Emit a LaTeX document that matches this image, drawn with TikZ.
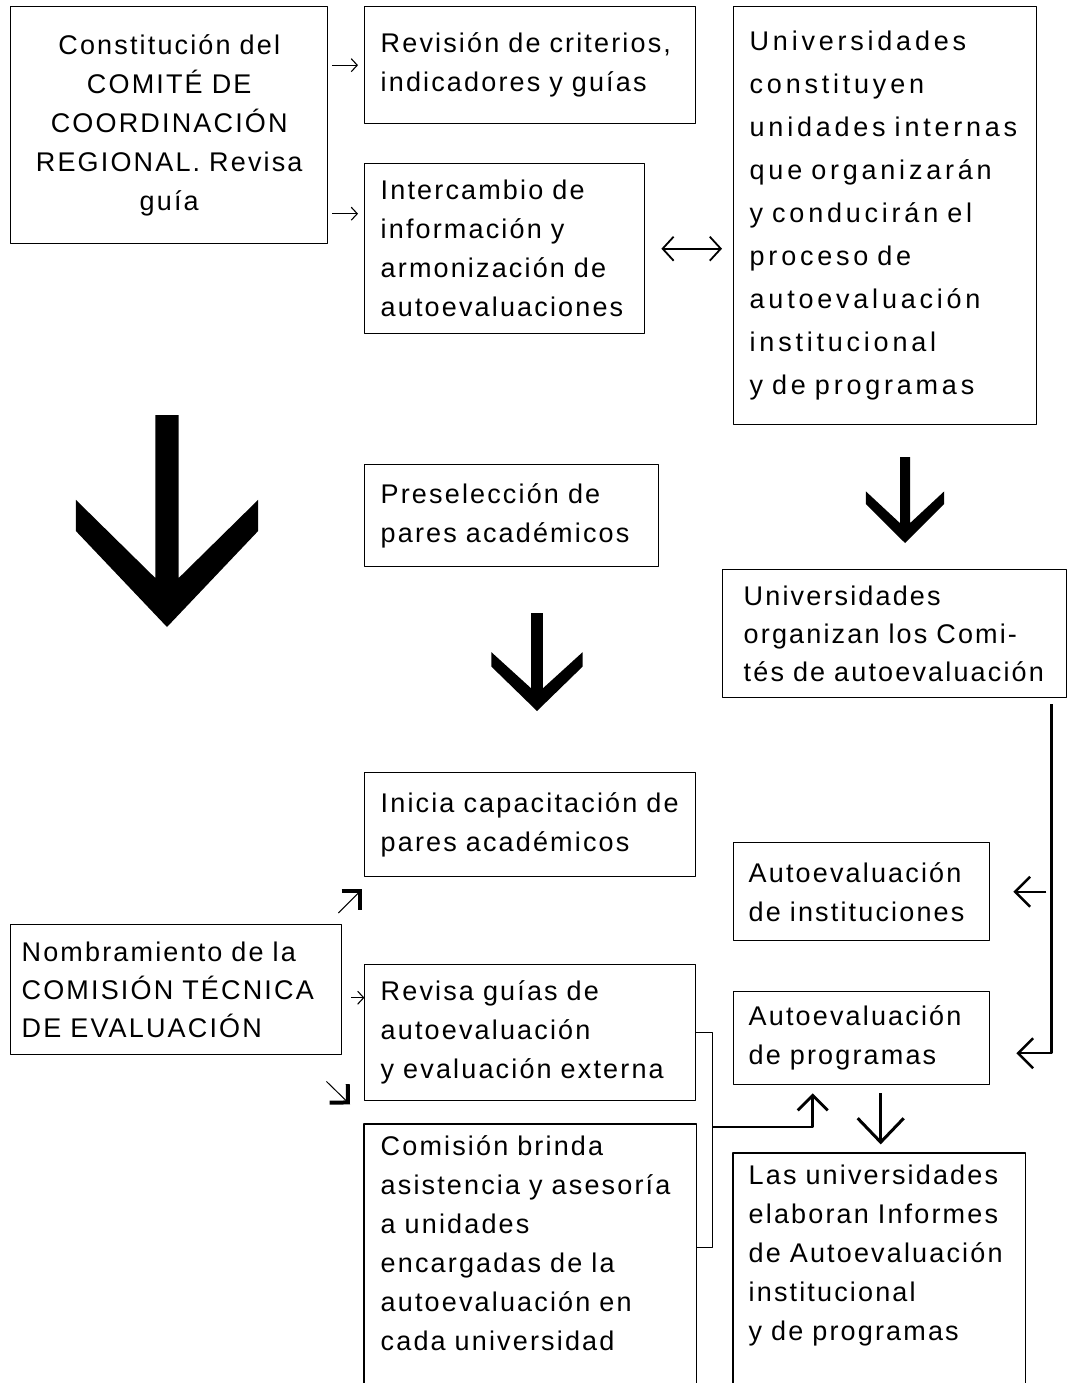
\documentclass[tikz,border=0pt]{standalone}
\usepackage{fontspec}
\setmainfont[LetterSpace=8]{Liberation Sans}
\usetikzlibrary{arrows.meta}

\tikzset{
  caja/.style={draw, line width=1.4pt, anchor=north west, align=left, inner xsep=16pt, inner ysep=0pt},
  marco/.style={line width=1.4pt},
  flechita/.style={-{Straight Barb[length=6pt,width=13pt]}, line width=1.1pt},
  flechadiag/.style={-{Straight Barb[length=13pt,width=26pt,line width=4pt]}, line width=1pt},
  flecha/.style={-{Straight Barb[length=15pt,width=30pt]}, line width=2.4pt},
  flechagrande/.style={-{Straight Barb[length=24pt,width=46pt]}, line width=3pt},
  abajo/.pic={\fill (-0.055,-1) -- (0.055,-1) -- (0.055,-0.231) -- (0.43,-0.6) -- (0.43,-0.453)
      -- (0,0) -- (-0.43,-0.453) -- (-0.43,-0.6) -- (-0.055,-0.231) -- cycle;}
}

\begin{document}
\begin{tikzpicture}[x=1pt, y=-1pt, line join=round, font=\fontsize{27}{39}\selectfont]
\path[use as bounding box, clip] (0,0) rectangle (1067,1383);

% fila superior
\node[caja, align=center, text width=285pt, minimum height=237pt] (comite) at (10,6)
  {Constitución del\\COMITÉ DE\\COORDINACIÓN\\REGIONAL. Revisa\\guía};
\node[caja, text width=299pt, minimum height=117pt] (revision) at (364,6)
  {Revisión de criterios,\\indicadores y guías};
\node[caja, text width=248pt, minimum height=170pt] (intercambio) at (364,163)
  {Intercambio de\\información y\\armonización de\\autoevaluaciones};
\node[caja, text width=271pt, minimum height=418pt,
      font=\fontsize{27}{43}\selectfont\addfontfeatures{LetterSpace=14}] (unidades) at (733,6)
  {Universidades\\constituyen\\unidades internas\\que organizarán\\y conducirán el\\proceso de\\autoevaluación\\institucional\\y de programas};

% fila central
\node[caja, text width=262pt, minimum height=102pt] (preseleccion) at (364,464)
  {Preselección de\\pares académicos};
\node[caja, inner xsep=21pt, text width=302pt, minimum height=128pt, font=\fontsize{27}{38}\selectfont] (comites) at (722,569)
  {Universidades\\organizan los Comi-\\tés de autoevaluación};
\node[caja, text width=299pt, minimum height=104pt] (capacitacion) at (364,772)
  {Inicia capacitación de\\pares académicos};

% fila inferior
\node[caja, inner xsep=11pt, text width=309pt, minimum height=130pt, font=\fontsize{27}{38}\selectfont] (comision) at (10,924)
  {Nombramiento de la\\COMISIÓN TÉCNICA\\DE EVALUACIÓN};
\node[caja, text width=299pt, minimum height=136pt] (revisa) at (364,964)
  {Revisa guías de\\autoevaluación\\y evaluación externa};
\node[caja, draw=none, text width=299pt, inner ysep=11pt] (brinda) at (364,1124)
  {Comisión brinda\\asistencia y asesoría\\a unidades\\encargadas de la\\autoevaluación en\\cada universidad};
\node[caja, inner xsep=15pt, text width=226pt, minimum height=98pt] (autoinst) at (733,842)
  {Autoevaluación\\de instituciones};
\node[caja, inner xsep=15pt, text width=226pt, minimum height=93pt] (autoprog) at (733,991)
  {Autoevaluación\\de programas};
\node[caja, draw=none, inner xsep=15pt, text width=261pt, inner ysep=11pt] (informes) at (733,1153)
  {Las universidades\\elaboran Informes\\de Autoevaluación\\institucional\\y de programas};
\draw[marco] (brinda.north west) ++(0,270) |- (brinda.north east) -- ++(0,270);
\draw[marco] (informes.north west) ++(0,240) |- (informes.north east) -- ++(0,240);

% flechas gruesas
\pic[scale=212] at (167,627) {abajo};
\pic[xscale=106, yscale=98] at (537,711) {abajo};
\pic[xscale=91, yscale=86] at (905,543) {abajo};

% conectores
\coordinate (c1) at ([yshift=35pt]intercambio.west);
\draw[flechita, shorten <=4pt, shorten >=6pt] (comite.east |- revision.west) -- (revision.west);
\draw[flechita, shorten <=4pt, shorten >=6pt] (comite.east |- c1) -- (c1);
\draw[{Straight Barb[length=11pt,width=24pt]}-{Straight Barb[length=11pt,width=24pt]}, line width=1.8pt,
      shorten <=16pt, shorten >=11pt] (intercambio.east) -- (intercambio.east -| unidades.west);

\coordinate (codo) at ([xshift=-16pt]comites.south east);
\draw[flecha] ([yshift=-6pt]codo) |- ([xshift=26pt,yshift=-15pt]autoprog.east);
\draw[flecha] ([xshift=56pt]autoinst.east) -- ([xshift=23pt]autoinst.east);

\draw[flechadiag] ([xshift=-4pt,yshift=11pt]comision.north east) -- ([xshift=-2pt,yshift=-12pt]capacitacion.south west);
\draw[flechita] ([xshift=9pt,yshift=-8pt]comision.east) -- ++(13,0);
\draw[flechadiag] ([xshift=-16pt,yshift=-26pt]comision.south east) -- ([xshift=-14pt,yshift=-3pt]revisa.south west);

\draw[marco] (revisa.east) -- ++(16,0) coordinate (llave) -- ++(0,215) -- ++(-16,0);
\draw[flecha, line width=2.8pt] (llave |- 0,1127) -| ([xshift=-49pt,yshift=-8pt]autoprog.south);
\draw[flechagrande] ([xshift=19pt,yshift=-8pt]autoprog.south) -- ++(0,51);
\end{tikzpicture}
\end{document}
